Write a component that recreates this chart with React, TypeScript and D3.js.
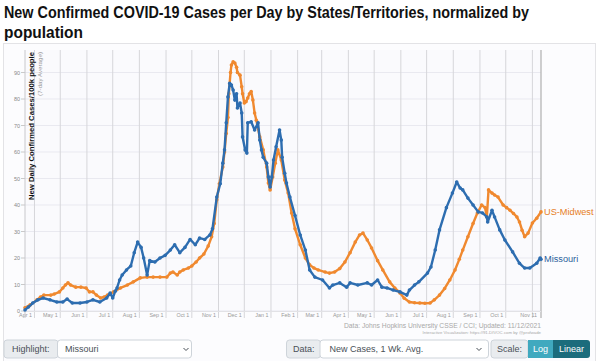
import React from 'react';
import * as d3 from 'd3';

const titleLines = ['New Confirmed COVID-19 Cases per Day by States/Territories, normalized by', 'population'];
const yTitle = 'New Daily Confirmed Cases/100k people';
const ySubtitle = '(7-day Average)';
const yTicks = [0, 10, 20, 30, 40, 50, 60, 70, 80, 90];
const lastLabel = 'Nov 11';
const creditLine1 = 'Data: Johns Hopkins University CSSE / CCI; Updated: 11/12/2021';
const creditLine2 = 'Interactive Visualization: https://91-DIVOC.com by @profwade';

const midwestDates = [
  '2020-03-21','2020-03-27','2020-04-04','2020-04-08','2020-04-12','2020-04-20','2020-04-24','2020-04-30',
  '2020-05-04','2020-05-07','2020-05-10','2020-05-13','2020-05-19','2020-05-25','2020-05-31','2020-06-04',
  '2020-06-08','2020-06-12','2020-06-17','2020-06-21','2020-06-25','2020-07-02','2020-07-10','2020-07-18',
  '2020-07-25','2020-08-02','2020-08-10','2020-08-17','2020-08-25','2020-09-02','2020-09-06','2020-09-09',
  '2020-09-14','2020-09-17','2020-09-21','2020-09-27','2020-10-01','2020-10-06','2020-10-10','2020-10-15',
  '2020-10-20','2020-10-24','2020-10-27','2020-10-30','2020-11-02','2020-11-06','2020-11-08','2020-11-10',
  '2020-11-12','2020-11-13','2020-11-15','2020-11-16','2020-11-18','2020-11-20','2020-11-22','2020-11-23',
  '2020-11-26','2020-11-28','2020-11-29','2020-12-01','2020-12-03','2020-12-05','2020-12-07','2020-12-09',
  '2020-12-11','2020-12-13','2020-12-15','2020-12-19','2020-12-23','2020-12-27','2020-12-29','2020-12-31',
  '2021-01-03','2021-01-06','2021-01-09','2021-01-13','2021-01-17','2021-01-21','2021-01-25','2021-01-29',
  '2021-02-04','2021-02-10','2021-02-15','2021-02-20','2021-02-25','2021-03-05','2021-03-10','2021-03-16',
  '2021-03-22','2021-03-28','2021-04-03','2021-04-09','2021-04-14','2021-04-18','2021-04-23','2021-04-28',
  '2021-05-05','2021-05-11','2021-05-19','2021-05-25','2021-05-31','2021-06-05','2021-06-11','2021-06-17',
  '2021-06-23','2021-06-29','2021-07-05','2021-07-10','2021-07-16','2021-07-22','2021-07-28','2021-08-03',
  '2021-08-08','2021-08-12','2021-08-18','2021-08-24','2021-08-29','2021-09-03','2021-09-07','2021-09-09',
  '2021-09-11','2021-09-15','2021-09-18','2021-09-22','2021-09-28','2021-10-02','2021-10-06','2021-10-10',
  '2021-10-14','2021-10-17','2021-10-20','2021-10-23','2021-10-27','2021-11-01','2021-11-06','2021-11-11',
];
const midwestValues = [
  1.2, 2.3, 4.2, 5.3, 6.0, 6.0, 6.4, 7.2,
  8.7, 9.8, 10.6, 9.8, 9.0, 9.0, 8.7, 7.2,
  7.2, 6.0, 4.9, 5.3, 6.0, 7.2, 8.7, 9.8,
  11.0, 12.5, 12.8, 12.8, 12.8, 12.8, 14.3, 14.7,
  13.6, 14.7, 15.5, 16.2, 17.0, 18.5, 20.0, 21.5,
  24.5, 28.0, 33.0, 42.0, 48.0, 54.3, 60.0, 67.0,
  73.0, 82.0, 90.0, 92.8, 94.0, 93.6, 92.0, 90.0,
  89.0, 84.6, 82.0, 78.5, 79.0, 80.4, 82.0, 82.8,
  79.6, 74.7, 72.0, 65.7, 60.8, 54.3, 48.3, 45.7,
  50.6, 55.8, 60.8, 57.0, 49.4, 44.5, 37.0, 31.0,
  25.0, 20.0, 17.4, 16.2, 15.5, 14.7, 14.3, 14.7,
  16.0, 18.5, 22.0, 26.0, 28.7, 29.4, 26.8, 23.8,
  19.0, 15.5, 11.0, 8.7, 6.8, 4.8, 3.4, 3.1,
  3.0, 2.9, 3.0, 4.2, 6.0, 8.5, 11.7, 15.5,
  19.5, 23.0, 28.0, 33.0, 37.0, 40.0, 39.0, 35.5,
  45.7, 44.5, 43.8, 43.0, 40.0, 39.0, 38.0, 36.8,
  35.5, 33.6, 30.5, 28.0, 29.4, 33.2, 35.0, 37.4,
];

const missouriDates = [
  '2020-03-21','2020-03-25','2020-03-30','2020-04-05','2020-04-11','2020-04-19','2020-04-27','2020-05-04',
  '2020-05-09','2020-05-15','2020-05-24','2020-06-01','2020-06-08','2020-06-16','2020-06-24','2020-06-28',
  '2020-07-01','2020-07-04','2020-07-06','2020-07-09','2020-07-12','2020-07-17','2020-07-22','2020-07-26',
  '2020-07-30','2020-08-03','2020-08-06','2020-08-10','2020-08-13','2020-08-19','2020-08-25','2020-08-31',
  '2020-09-06','2020-09-11','2020-09-17','2020-09-23','2020-09-29','2020-10-05','2020-10-10','2020-10-16',
  '2020-10-22','2020-10-25','2020-10-30','2020-11-03','2020-11-06','2020-11-08','2020-11-10','2020-11-12',
  '2020-11-14','2020-11-16','2020-11-18','2020-11-20','2020-11-22','2020-11-23','2020-11-26','2020-11-28',
  '2020-11-29','2020-12-02','2020-12-04','2020-12-05','2020-12-09','2020-12-13','2020-12-17','2020-12-19',
  '2020-12-21','2020-12-23','2020-12-27','2020-12-29','2020-12-31','2021-01-02','2021-01-04','2021-01-07',
  '2021-01-11','2021-01-13','2021-01-14','2021-01-17','2021-01-19','2021-01-23','2021-01-29','2021-02-04',
  '2021-02-10','2021-02-15','2021-02-21','2021-03-02','2021-03-10','2021-03-14','2021-03-22','2021-03-30',
  '2021-04-03','2021-04-12','2021-04-23','2021-04-28','2021-05-05','2021-05-10','2021-05-16','2021-05-23',
  '2021-05-31','2021-06-08','2021-06-11','2021-06-17','2021-06-22','2021-07-02','2021-07-06','2021-07-11',
  '2021-07-16','2021-07-24','2021-07-31','2021-08-05','2021-08-09','2021-08-12','2021-08-18','2021-08-24',
  '2021-08-30','2021-09-04','2021-09-09','2021-09-10','2021-09-15','2021-09-18','2021-09-24','2021-09-30',
  '2021-10-09','2021-10-17','2021-10-23','2021-10-29','2021-11-06','2021-11-10','2021-11-11',
];
const missouriValues = [
  0.4, 1.5, 3.0, 4.2, 4.9, 4.2, 3.4, 3.4,
  4.5, 3.0, 3.0, 3.4, 4.2, 3.4, 4.9, 6.8,
  4.9, 7.5, 8.7, 11.7, 13.6, 15.5, 17.0, 22.0,
  26.0, 24.0, 20.0, 13.6, 19.0, 18.5, 20.0, 21.0,
  23.0, 25.0, 22.0, 24.0, 27.0, 25.0, 27.5, 27.0,
  28.7, 31.0, 43.0, 48.0, 55.8, 60.8, 71.0, 80.8,
  85.9, 85.3, 83.4, 79.6, 82.0, 76.6, 78.5, 74.7,
  65.7, 60.8, 59.6, 71.0, 71.4, 68.3, 71.0, 64.5,
  60.8, 58.0, 55.8, 50.6, 46.8, 50.6, 57.0, 62.0,
  68.3, 64.5, 58.0, 52.0, 48.3, 43.0, 36.0, 28.7,
  23.0, 15.5, 12.8, 11.7, 8.7, 9.8, 10.6, 9.0,
  10.6, 9.8, 10.6, 9.8, 11.7, 9.0, 8.7, 7.9,
  7.2, 6.0, 7.9, 9.8, 11.0, 14.3, 16.6, 23.0,
  30.6, 39.0, 44.5, 48.7, 46.4, 45.7, 42.6, 40.0,
  37.4, 37.0, 35.5, 33.6, 38.0, 35.5, 30.6, 26.8,
  22.3, 18.0, 16.2, 16.2, 18.0, 20.0, 19.5,
];

const seriesNames = ['US-Midwest', 'Missouri'];
const seriesColors = ['#f0892f', '#2d6db0'];
const labelColors = ['#e67e26', '#2c5f9c'];

const FONT = "'Liberation Sans', Arial, Helvetica, sans-serif";

export default function App() {
  const parse = d3.timeParse('%Y-%m-%d');
  const start = parse('2020-03-21') as Date;
  const end = parse('2021-11-11') as Date;
  const x = d3.scaleTime().domain([start, end]).range([25, 541]);
  const y = d3.scaleLinear().domain([0, 98.5]).range([311, 50]);

  const mk = (dates: string[], vals: number[]) => dates.map((d, i) => ({ date: parse(d) as Date, v: vals[i] }));
  const series = [mk(midwestDates, midwestValues), mk(missouriDates, missouriValues)];
  const line = d3.line<{ date: Date; v: number }>().x(d => x(d.date)).y(d => y(d.v));

  const months = d3.timeMonth.range(new Date(2020, 3, 1), new Date(2021, 10, 2));
  const fmt = d3.timeFormat('%b %-d');
  const lastMonth = months[months.length - 1];

  const plotTop = 50, plotBottom = 311;

  return (
    <svg width={600} height={361} style={{ position: 'absolute', left: 0, top: 0, background: '#fff' }} fontFamily={FONT}>
      {/* title */}
      <text x={4} y={18} fontSize={16} fontWeight="bold" fill="#111" textLength={525} lengthAdjust="spacingAndGlyphs">{titleLines[0]}</text>
      <text x={4} y={38} fontSize={16} fontWeight="bold" fill="#111" textLength={79} lengthAdjust="spacingAndGlyphs">{titleLines[1]}</text>

      {/* frame */}
      <rect x={3.5} y={43.5} width={592} height={330} fill="#fcfcfe" stroke="#e3e3e6" />

      {/* plot background */}
      <rect x={25} y={plotTop} width={516} height={plotBottom - plotTop} fill="#fafafd" />

      {/* horizontal grid */}
      {yTicks.map(t => (
        <g key={'h' + t}>
          <line x1={25} x2={541} y1={y(t)} y2={y(t)} stroke="#e9e9f0" strokeWidth={1} />
          <line x1={21} x2={25} y1={y(t)} y2={y(t)} stroke="#bbb" strokeWidth={0.8} />
          <text x={20} y={y(t) + 2} fontSize={5.5} fill="#888" textAnchor="end">{t}</text>
        </g>
      ))}

      {/* vertical grid */}
      {months.map(m => (
        <g key={'v' + m.getTime()}>
          <line x1={x(m)} x2={x(m)} y1={plotTop} y2={318} stroke="#d6d6da" strokeWidth={1} />
          {m !== lastMonth && (
            <text x={x(m) - 2.5} y={317} fontSize={5.4} fill="#999" textAnchor="end">{fmt(m)}</text>
          )}
        </g>
      ))}
      <line x1={x(end)} x2={x(end)} y1={plotTop} y2={318} stroke="#b5b5b5" strokeWidth={1.3} />
      <text x={x(end) - 4} y={317} fontSize={5.4} fill="#999" textAnchor="end">{lastLabel}</text>

      {/* axes */}
      <line x1={25} x2={25} y1={plotTop} y2={318} stroke="#c8c8cc" strokeWidth={1} />
      <line x1={25} x2={541} y1={plotBottom + 0.5} y2={plotBottom + 0.5} stroke="#e2e2e6" strokeWidth={1} />

      {/* y titles */}
      <text transform={`translate(34,52) rotate(-90)`} fontSize={8} fontWeight="bold" fill="#111" textAnchor="end" textLength={148} lengthAdjust="spacingAndGlyphs">{yTitle}</text>
      <text transform={`translate(41.5,52) rotate(-90)`} fontSize={6.2} fill="#999" textAnchor="end">{ySubtitle}</text>

      {/* series */}
      {series.map((s, i) => (
        <g key={'s' + i}>
          <path d={line(s) || ''} fill="none" stroke={seriesColors[i]} strokeWidth={2.4} strokeLinejoin="round" />
          {s.map((p, j) => (
            <circle key={j} cx={x(p.date)} cy={y(p.v)} r={1.8} fill={seriesColors[i]} />
          ))}
        </g>
      ))}

      {/* end labels */}
      {series.map((s, i) => {
        const lastPt = s[s.length - 1];
        return (
          <text key={'l' + i} x={544} y={y(lastPt.v) + 3} fontSize={9.2} fill={labelColors[i]}>{seriesNames[i]}</text>
        );
      })}

      {/* credits */}
      <text x={541} y={328} fontSize={6.6} fill="#a8a8a8" textAnchor="end" textLength={197} lengthAdjust="spacingAndGlyphs">{creditLine1}</text>
      <text x={541} y={334} fontSize={4.3} fill="#a8a8a8" textAnchor="end">{creditLine2}</text>

      {/* controls */}
      <g fontSize={9} fill="#495057">
        <rect x={4} y={340} width={54} height={18} rx={3} fill="#e9ecef" stroke="#ced4da" />
        <text x={12} y={352}>Highlight:</text>
        <rect x={57.5} y={340} width={134} height={18} rx={3} fill="#fff" stroke="#ced4da" />
        <text x={65} y={352}>Missouri</text>
        <path d="M183.5,348 l2.5,2.5 l2.5,-2.5" fill="none" stroke="#495057" strokeWidth={1} />

        <rect x={286.5} y={340} width={34} height={18} rx={3} fill="#e9ecef" stroke="#ced4da" />
        <text x={293} y={352}>Data:</text>
        <rect x={320} y={340} width={168.5} height={18} rx={3} fill="#fff" stroke="#ced4da" />
        <text x={329.5} y={352}>New Cases, 1 Wk. Avg.</text>
        <path d="M476.5,348 l2.5,2.5 l2.5,-2.5" fill="none" stroke="#495057" strokeWidth={1} />

        <rect x={491} y={340} width={37} height={18} rx={3} fill="#e9ecef" stroke="#ced4da" />
        <text x={497} y={352}>Scale:</text>
        <rect x={528} y={340} width={25} height={18} fill="#40a9bf" />
        <text x={540.5} y={352} fill="#fff" textAnchor="middle">Log</text>
        <rect x={553} y={340} width={37} height={18} rx={3} fill="#1c6c7c" />
        <rect x={553} y={340} width={5} height={18} fill="#1c6c7c" />
        <text x={571.5} y={352} fill="#fff" textAnchor="middle">Linear</text>
      </g>
    </svg>
  );
}
